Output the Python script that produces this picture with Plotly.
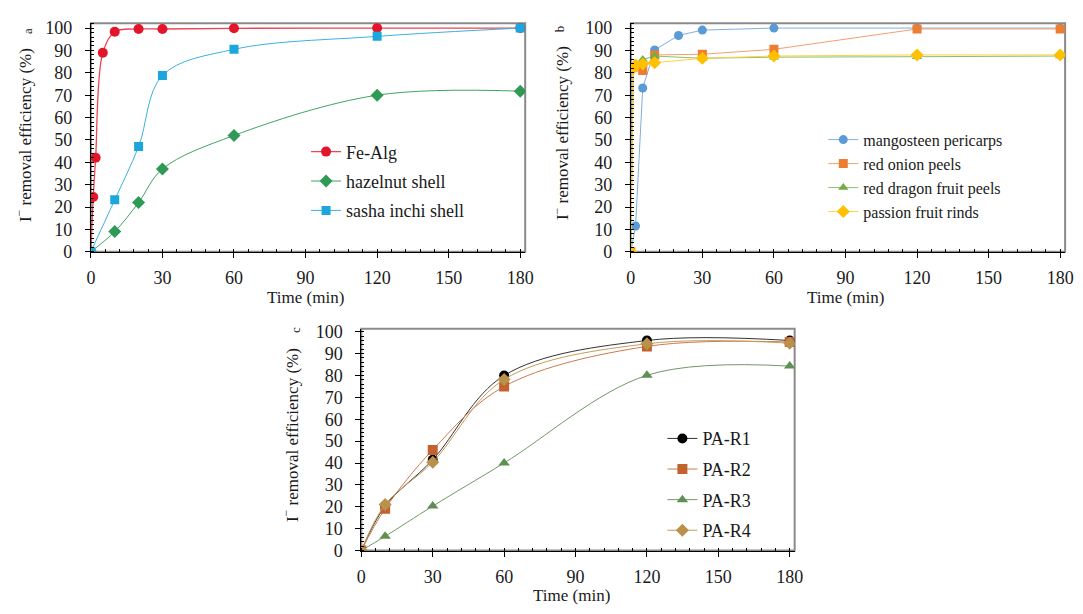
import plotly.graph_objects as go

# ---------------- data ----------------
# panel a
time_fe = [0, 1, 2, 5, 10, 20, 30, 60, 120, 180]
fe_alg = [0, 24.5, 42, 89, 98.4, 99.6, 99.6, 99.9, 100, 100]
time_a = [0, 10, 20, 30, 60, 120, 180]
hazelnut = [0, 9, 22, 37, 52, 70, 71.8]
sasha = [0, 23.2, 47, 78.8, 90.5, 96.3, 100]

# panel b
time_mango = [0, 2, 5, 10, 20, 30, 60, 120, 180]
mangosteen = [0, 11.5, 73.2, 90.2, 96.7, 99.1, 100, 100, 100]
time_b = [0, 1, 5, 10, 30, 60, 120, 180]
red_onion = [0, 82.5, 81, 88, 88.3, 90.5, 99.6, 99.6]
red_dragon = [0, 83, 86, 87.5, 86.5, 87, 87.2, 87.5]
time_passion = [0, 1, 2, 5, 10, 30, 60, 120, 180]
passion = [0, 82, 83.5, 84, 84.5, 86.5, 87.5, 88, 88]

# panel c
time_c = [0, 10, 30, 60, 120, 180]
pa_r1 = [0, 20.3, 41.5, 80, 96, 96]
pa_r2 = [0, 19.1, 46, 75, 93.3, 95.3]
pa_r3 = [0, 6.5, 20.3, 40, 80.1, 84.3]
pa_r4 = [0, 21, 40.4, 78.2, 94.5, 94.8]

x_ticks = [0, 30, 60, 90, 120, 150, 180]
y_ticks = [0, 10, 20, 30, 40, 50, 60, 70, 80, 90, 100]

# ---------------- layout helpers ----------------
W, H = 1083, 614
FONT = "Liberation Serif"
TXT = "#1a1a1a"


def px(x):
    return x / W


def py(y):
    return 1 - y / H


fig = go.Figure()


def add(x, y, name, color, symbol, size, xa, ya, legend, shape="linear", lw=1.2, lcolor=None):
    fig.add_trace(go.Scatter(
        x=x, y=y, name=name, mode="lines+markers",
        line=dict(color=lcolor or color, width=lw, shape=shape, smoothing=1.0),
        marker=dict(color=color, symbol=symbol, size=size, line=dict(width=0)),
        xaxis=xa, yaxis=ya, legend=legend, legendgroup=name,
    ))


# panel a (smoothed)
add(time_fe, fe_alg, "Fe-Alg", "#E3152B", "circle", 10, "x", "y", "legend", "spline", 1.3, "#EE4352")
add(time_a, hazelnut, "hazelnut shell", "#2F9A55", "diamond", 10, "x", "y", "legend", "spline", 1.0, "#3FA463")
add(time_a, sasha, "sasha inchi shell", "#1BA6DC", "square", 9, "x", "y", "legend", "spline", 1.0, "#3AB1E0")

# panel b (straight)
add(time_mango, mangosteen, "mangosteen pericarps", "#5B9BD5", "circle", 9, "x2", "y2", "legend2", "linear", 1.0, "#7FAFDC")
add(time_b, red_onion, "red onion peels", "#ED7D31", "square", 9, "x2", "y2", "legend2", "linear", 1.0, "#F2A070")
add(time_b, red_dragon, "red dragon fruit peels", "#70AD47", "triangle-up", 9, "x2", "y2", "legend2", "linear", 1.0, "#8DBE6C")
add(time_passion, passion, "passion fruit rinds", "#FFC000", "diamond", 10, "x2", "y2", "legend2", "linear", 1.0, "#FFD040")

# panel c (smoothed)
add(time_c, pa_r1, "PA-R1", "#000000", "circle", 10, "x3", "y3", "legend3", "spline", 1.0, "#333333")
add(time_c, pa_r2, "PA-R2", "#C2622F", "square", 10, "x3", "y3", "legend3", "spline", 1.0, "#CC7A4E")
add(time_c, pa_r3, "PA-R3", "#5F8F55", "triangle-up", 10, "x3", "y3", "legend3", "spline", 1.0, "#6E9A64")
add(time_c, pa_r4, "PA-R4", "#B9914A", "diamond", 10, "x3", "y3", "legend3", "spline", 1.0, "#C49C5C")


def xaxis(domain, rng):
    return dict(
        domain=domain, range=rng, showline=True, linecolor="#000", linewidth=1,
        ticks="outside", ticklen=5, tickcolor="#000", tickwidth=1,
        tickvals=x_ticks, showgrid=False, zeroline=False,
        tickfont=dict(family=FONT, size=18, color=TXT), ticklabelstandoff=5,
        minor=dict(dtick=6, tick0=0, ticks="inside", ticklen=3, tickcolor="#000", showgrid=False),
        fixedrange=True,
    )


def yaxis(domain, rng, anchor):
    return dict(
        domain=domain, range=rng, anchor=anchor, showline=True, linecolor="#000", linewidth=1,
        ticks="outside", ticklen=5, tickcolor="#000", tickwidth=1,
        tickvals=y_ticks, showgrid=False, zeroline=False,
        tickfont=dict(family=FONT, size=18, color=TXT), ticklabelstandoff=9,
        minor=dict(dtick=2, tick0=0, ticks="inside", ticklen=3, tickcolor="#000", showgrid=False),
        fixedrange=True,
    )


ya_dom = [py(251.7), py(16.7)]
yc_dom = [py(559), py(331)]

layout = dict(
    width=W, height=H, margin=dict(l=0, r=0, t=0, b=0),
    paper_bgcolor="white", plot_bgcolor="white",
    font=dict(family=FONT, size=18, color=TXT),
    xaxis=dict(xaxis([px(87), px(527)], [0, 182.07]), anchor="y"),
    yaxis=yaxis(ya_dom, [0, 102.17], "x"),
    xaxis2=dict(xaxis([px(634), px(1074)], [0, 182.07]), anchor="y2"),
    yaxis2=yaxis(ya_dom, [0, 102.17], "x2"),
    xaxis3=dict(xaxis([px(361), px(800)], [0, 182.07]), anchor="y3"),
    yaxis3=yaxis(yc_dom, [0, 101.33], "x3"),
    legend=dict(x=px(305), y=py(130), xanchor="left", yanchor="top",
                font=dict(family=FONT, size=18, color=TXT), traceorder="grouped",
                tracegroupgap=3.0, bgcolor="rgba(0,0,0,0)", borderwidth=0, itemwidth=30),
    legend2=dict(x=px(829), y=py(119), xanchor="left", yanchor="top",
                 font=dict(family=FONT, size=16, color=TXT), traceorder="grouped",
                 tracegroupgap=0.2, bgcolor="rgba(0,0,0,0)", borderwidth=0, itemwidth=30),
    legend3=dict(x=px(666), y=py(425), xanchor="left", yanchor="top",
                 font=dict(family=FONT, size=18, color=TXT), traceorder="grouped",
                 tracegroupgap=4.2, bgcolor="rgba(0,0,0,0)", borderwidth=0, itemwidth=30),
    showlegend=True,
)
fig.update_layout(**layout)

# plot-area frames (grey box), drawn beneath the black axis lines
for xa, ya in [("x", "y"), ("x2", "y2"), ("x3", "y3")]:
    fig.add_shape(type="rect", xref=f"{xa} domain", yref=f"{ya} domain",
                  x0=0, x1=1, y0=0, y1=1, line=dict(color="#8a8a8a", width=2), layer="below")

ytitle = "I<sup>−</sup> removal efficiency (%)"
annots = [
    # y titles
    dict(x=px(19), y=py(132), text=ytitle, textangle=-90),
    dict(x=px(564), y=py(130), text=ytitle, textangle=-90),
    dict(x=px(289), y=py(440), text=ytitle, textangle=-90),
    # x titles
    dict(x=px(304.5), y=py(299), text="Time (min)"),
    dict(x=px(851.5), y=py(299), text="Time (min)"),
    dict(x=px(574), y=py(605), text="Time (min)"),
]
for a in annots:
    fig.add_annotation(xref="paper", yref="paper", showarrow=False, xanchor="center", yanchor="middle",
                       font=dict(family=FONT, size=17, color=TXT), **a)

for lab, x, y in [("a", 23, 25), ("b", 562, 22), ("c", 295, 332)]:
    fig.add_annotation(xref="paper", yref="paper", x=px(x), y=py(y), text=lab, textangle=-90,
                       showarrow=False, xanchor="center", yanchor="middle",
                       font=dict(family=FONT, size=13, color=TXT))

fig.write_html("out.html")
